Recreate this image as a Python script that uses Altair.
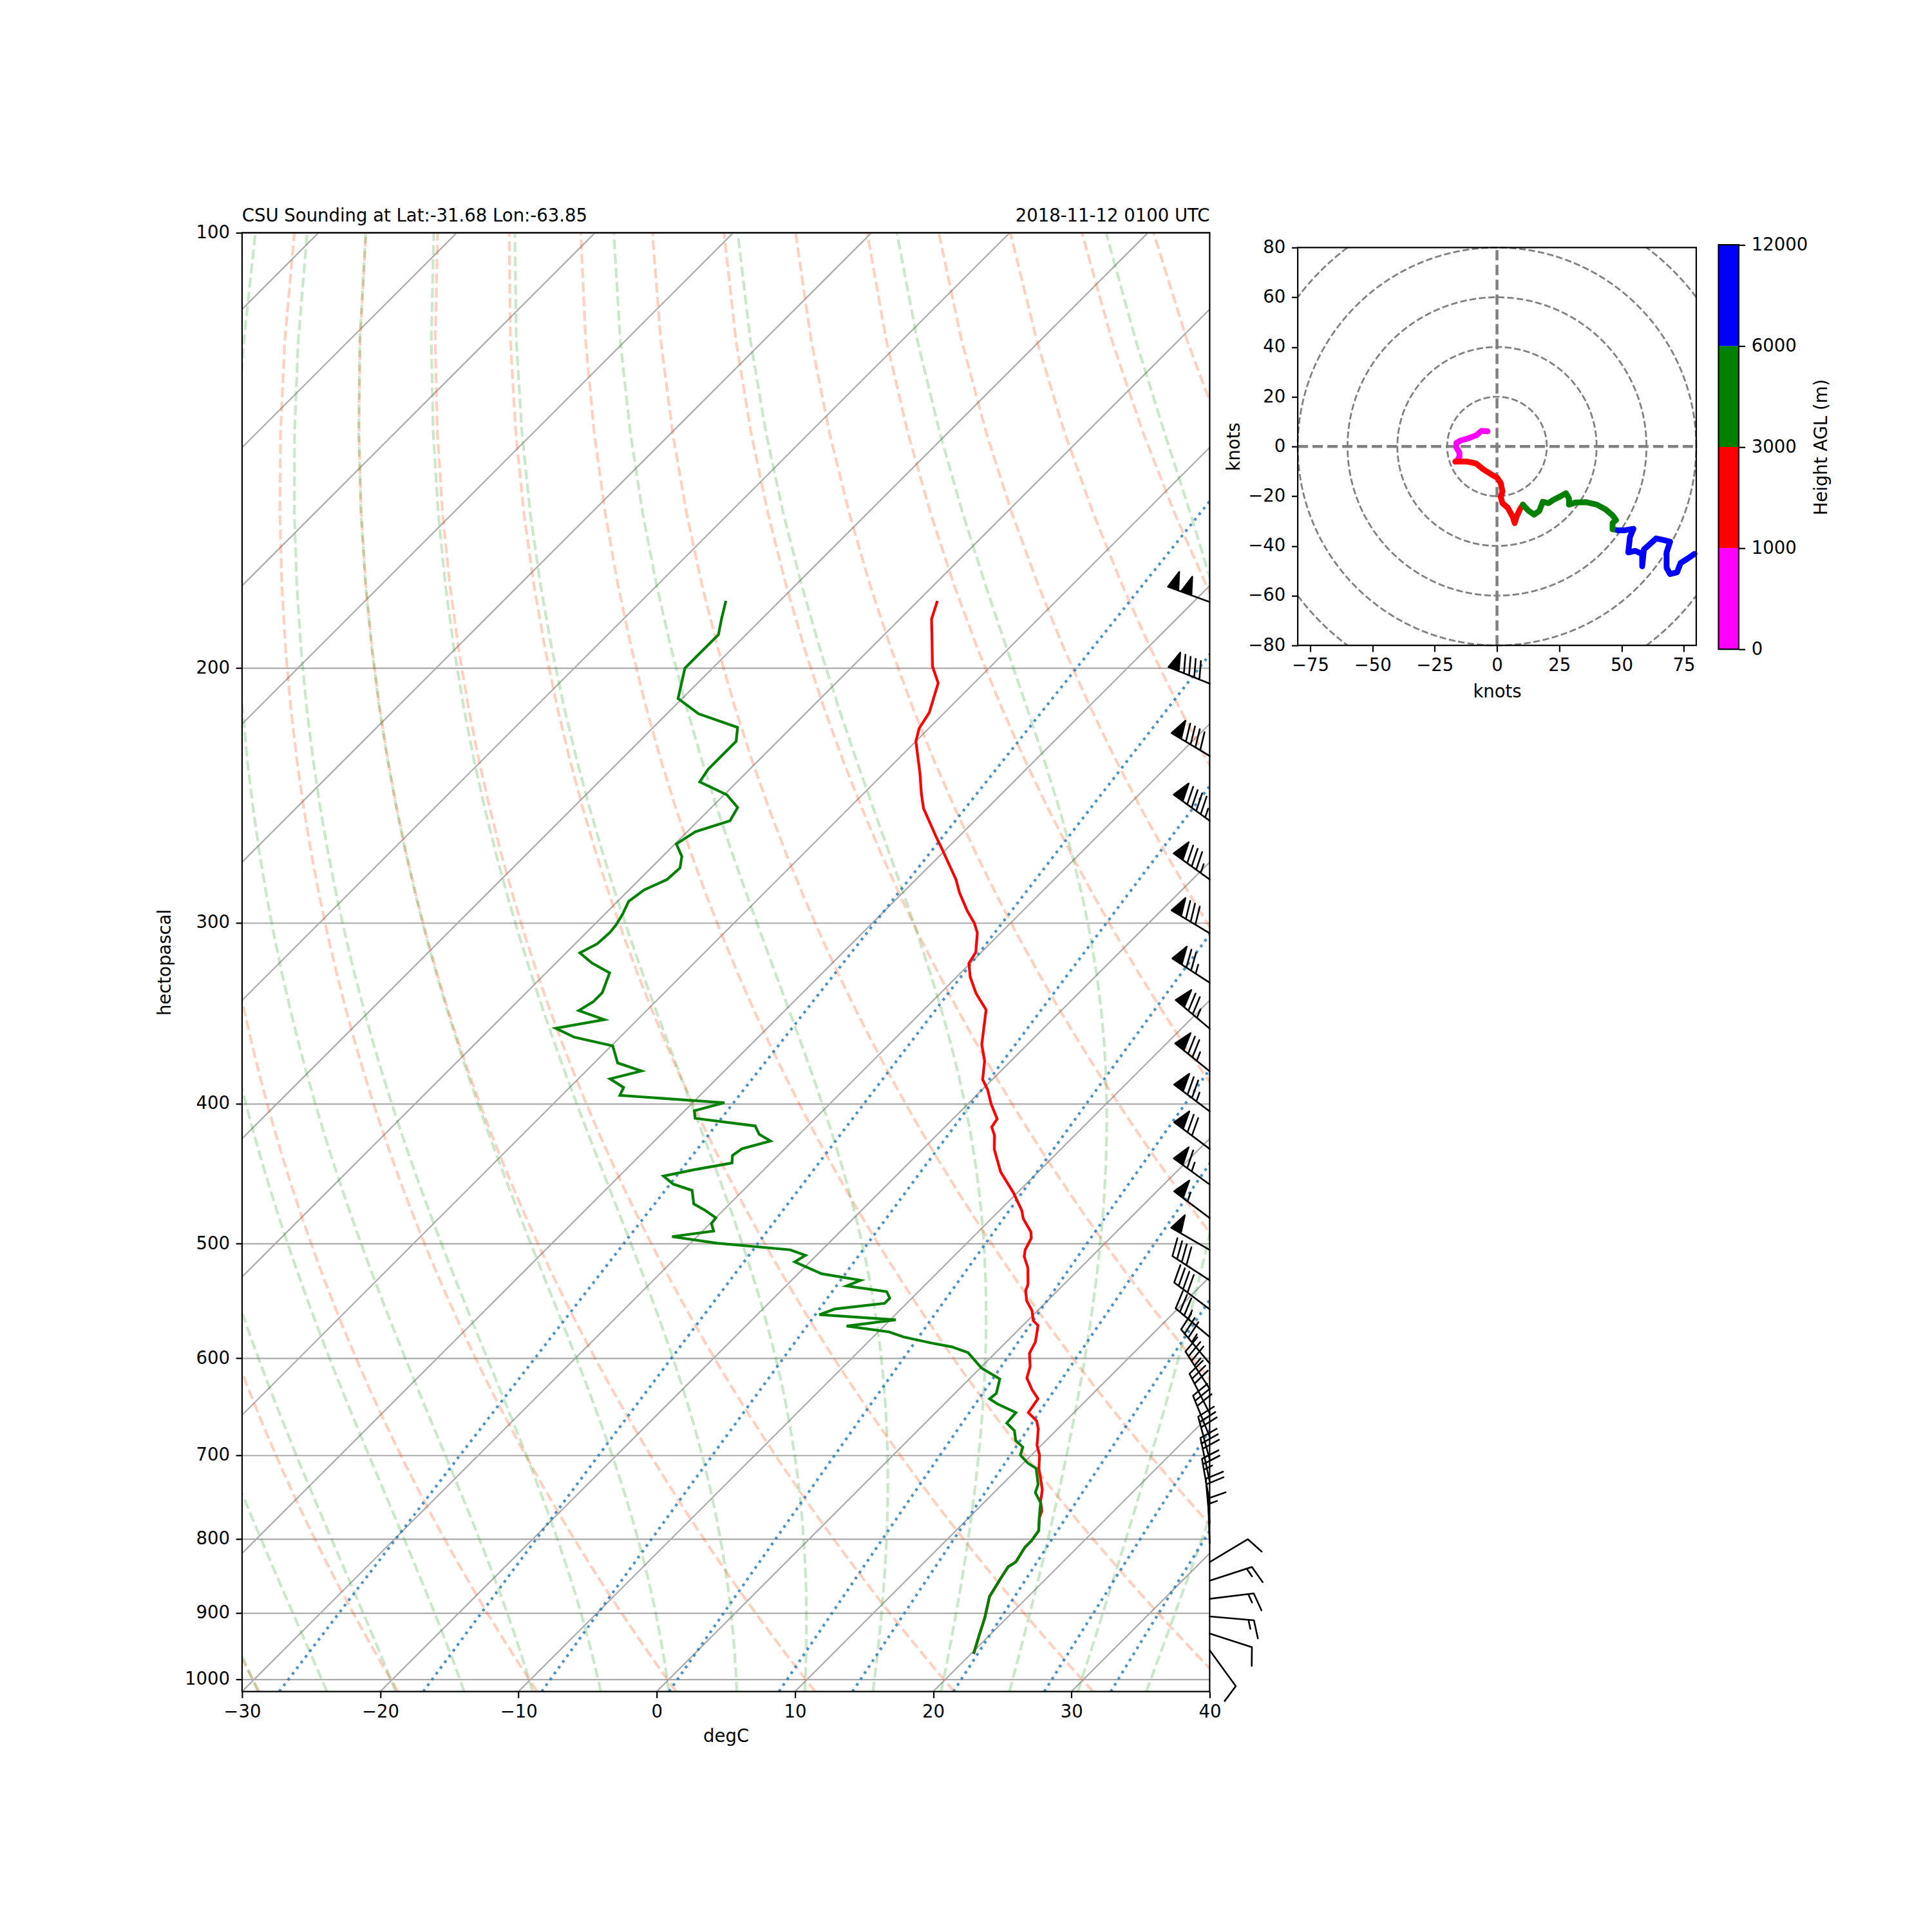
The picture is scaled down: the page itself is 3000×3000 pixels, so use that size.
import numpy as np
import pandas as pd
import altair as alt

# ------------------------------------------------------------------ texts
TITLE_LEFT = "CSU Sounding at Lat:-31.68 Lon:-63.85"
TITLE_RIGHT = "2018-11-12 0100 UTC"
X_TITLE = "degC"
Y_TITLE = "hectopascal"
HODO_TITLE = "knots"
CBAR_TITLE = "Height AGL (m)"

# ------------------------------------------------------------------ sounding
temp_p = [179.7, 185.0, 199.5, 204.8, 214.7, 220.1, 224.7, 236.4, 244.3, 250.0,
          261.7, 266.0, 280.0, 285.9, 294.4, 300.2, 304.8, 314.4, 320.0, 327.1,
          335.7, 344.5, 364.1, 373.8, 385.0, 391.3, 400.4, 409.9, 415.3, 420.8,
          430.3, 446.1, 460.9, 474.2, 480.4, 490.6, 495.7, 504.9, 510.2, 519.6,
          533.4, 539.0, 547.6, 556.3, 565.1, 569.5, 584.6, 595.4, 608.0, 619.3,
          630.7, 640.0, 654.2, 662.9, 671.4, 689.3, 700.2, 715.0, 739.8, 753.4,
          765.3, 773.4, 789.7, 802.3, 810.7, 829.9, 836.4, 851.9, 876.8, 907.1,
          931.0, 960.7]
temp_c = [-58.6, -57.7, -54.2, -52.6, -51.1, -50.7, -50.0, -47.4, -45.8, -44.6,
          -41.6, -40.5, -37.1, -35.9, -34.0, -32.6, -31.7, -30.4, -30.1, -29.0,
          -27.4, -25.5, -23.3, -21.9, -20.7, -19.6, -18.3, -16.8, -16.6, -15.8,
          -14.8, -12.7, -10.3, -8.4, -7.7, -6.2, -5.7, -5.3, -4.9, -3.8,
          -2.6, -2.3, -1.5, -0.4, 0.4, 1.1, 2.1, 2.5, 3.5, 4.1,
          5.3, 6.4, 6.7, 7.9, 8.6, 9.7, 10.6, 11.5, 13.3, 14.0,
          14.8, 15.1, 16.0, 16.2, 16.2, 16.6, 16.4, 16.7, 17.2, 18.4,
          19.2, 20.2]

dewp_p = [179.7, 185.0, 189.6, 200.0, 209.9, 215.1, 219.8, 224.7, 229.6, 235.0,
          239.7, 244.7, 249.7, 255.0, 259.5, 264.6, 269.9, 274.9, 280.0, 284.7,
          289.9, 296.0, 301.1, 304.7, 310.2, 314.7, 319.8, 324.9, 335.3, 340.2,
          345.0, 350.0, 354.8, 359.9, 364.9, 369.9, 375.0, 379.8, 384.6, 389.9,
          394.8, 399.5, 404.6, 409.5, 414.5, 420.1, 424.6, 429.8, 434.5, 439.7,
          444.6, 449.0, 454.8, 459.3, 469.3, 474.2, 479.8, 484.2, 490.0, 494.4,
          499.6, 502.2, 504.9, 509.3, 514.7, 524.5, 530.0, 534.8, 539.6, 545.3,
          549.8, 554.8, 559.8, 564.4, 570.1, 575.4, 580.0, 585.5, 589.2, 594.7,
          609.5, 620.1, 634.6, 640.0, 645.6, 654.2, 665.3, 673.3, 683.9, 691.2,
          700.0, 708.9, 715.0, 733.4, 743.2, 755.1, 773.4, 789.7, 802.3, 810.7,
          829.9, 836.4, 851.9, 876.8, 907.1, 931.0, 960.7]
dewp_c = [-73.9, -72.9, -72.0, -72.0, -70.3, -67.7, -63.9, -63.0, -63.0, -63.0,
          -62.7, -59.8, -58.1, -57.7, -59.4, -59.9, -58.6, -57.9, -58.0, -58.9,
          -59.2, -58.7, -58.4, -58.3, -58.4, -59.0, -57.4, -55.4, -54.5, -54.5,
          -54.9, -52.4, -55.3, -53.3, -49.9, -49.1, -48.3, -46.0, -47.7, -46.1,
          -45.8, -37.7, -39.3, -38.7, -33.8, -32.9, -31.6, -33.1, -33.3, -32.8,
          -35.1, -36.8, -35.5, -33.7, -32.6, -31.3, -30.0, -29.9, -29.2, -31.8,
          -28.1, -25.2, -22.3, -20.8, -21.1, -18.3, -15.0, -15.6, -12.3, -11.6,
          -11.6, -14.8, -15.5, -9.6, -12.7, -9.2, -7.8, -5.4, -3.6, -2.0,
          0.1, 2.2, 3.0, 2.9, 3.9, 5.8, 5.9, 7.0, 7.8, 8.8,
          9.2, 10.3, 11.3, 12.6, 13.0, 14.1, 15.1, 16.0, 16.2, 16.2,
          16.6, 16.4, 16.7, 17.2, 18.4, 19.2, 20.2]

# wind barbs (hPa, knots, direction wind comes from in degrees)
barb_p = [180, 205, 230, 255, 280, 305, 330, 355, 380, 405, 430, 455, 480, 505, 530, 555,
          580, 605, 630, 655, 680, 705, 730, 755, 780, 805, 830, 855, 880, 905, 930, 955]
barb_spd = [100, 90, 90, 95, 85, 80, 75, 75, 75, 75, 70, 65, 55, 50, 40, 40,
            35, 35, 35, 30, 30, 30, 30, 25, 20, 15, 10, 15, 15, 15, 10, 10]
barb_dir = [290, 292, 301, 306, 306, 301, 303, 310, 309, 307, 307, 306, 307, 300, 303, 307,
            310, 320, 327, 333, 338, 345, 348, 350, 355, 358, 59, 72, 83, 95, 108, 144]

# hodograph (knots) and height AGL (m)
hodo_u = [-3.8, -6.2, -8.3, -11.8, -14.6, -16.3, -16.3, -15.1, -15.1, -16.0,
          -16.7, -11.8, -8.3, -5.5, -2.0, 0.1, 1.5, 2.2, 1.5, 2.2, 4.3, 6.4, 7.1, 7.8, 9.2,
          10.4, 12.7, 14.9, 17.0, 18.4, 20.7, 22.6, 25.4, 27.7, 28.9, 28.9, 31.7, 35.9, 40.1,
          43.6, 46.4, 47.8, 46.4, 46.4,
          48.5, 51.3, 54.8, 53.4, 52.7, 55.5, 58.3, 58.3, 59.0, 61.1, 63.9, 66.7, 69.5, 68.1,
          68.1, 69.5, 72.3, 73.7, 76.5, 79.3]
hodo_v = [6.1, 6.3, 4.5, 3.2, 2.4, 1.4, -0.5, -2.4, -4.2, -5.7,
          -6.1, -6.1, -6.9, -9.2, -11.4, -12.6, -14.7, -18.1, -20.3, -22.8, -24.6, -28.4, -30.8,
          -28.4, -25.3,
          -23.4, -25.9, -27.4, -25.9, -22.2, -22.8, -21.5, -20.1, -18.8, -20.9, -23.4, -22.5,
          -22.4, -23.4, -25.3, -27.7, -29.6, -30.8, -33.3,
          -33.7, -33.7, -33.1, -36.4, -42.6, -42.0, -43.2, -48.2, -41.4, -39.5, -37.0, -37.6,
          -38.3, -42.6, -48.8, -51.3, -50.6, -46.9, -45.1, -43.2]
hodo_h = [0, 110, 220, 330, 440, 550, 660, 770, 880, 990,
          1000, 1140, 1280, 1420, 1560, 1700, 1840, 1980, 2120, 2260, 2400, 2540, 2680, 2820, 2960,
          3000, 3165, 3330, 3495, 3660, 3825, 3990, 4155, 4320, 4485, 4650, 4815, 4980, 5145,
          5310, 5475, 5640, 5805, 5970,
          6000, 6300, 6600, 6900, 7200, 7500, 7800, 8100, 8400, 8700, 9000, 9300, 9600, 9900,
          10200, 10500, 10800, 11100, 11400, 11700]

# ------------------------------------------------------------------ ticks and reference-line parameters
skew_xticks = [-30, -20, -10, 0, 10, 20, 30, 40]
skew_pticks = [100, 200, 300, 400, 500, 600, 700, 800, 900, 1000]
isotherm_t = [-130, -120, -110, -100, -90, -80, -70, -60, -50, -40, -30, -20, -10, 0, 10, 20, 30, 40]
dry_theta_k = list(range(233, 533, 10))
moist_t0_k = list(range(233, 400, 5))
mixing_ratios = [0.0004, 0.001, 0.002, 0.004, 0.007, 0.01, 0.016, 0.024, 0.032]
hodo_xticks = [-75, -50, -25, 0, 25, 50, 75]
hodo_yticks = [-80, -60, -40, -20, 0, 20, 40, 60, 80]
hodo_rings = [20, 40, 60, 80, 100, 120]
cbar_bounds = [0, 1000, 3000, 6000, 12000]
cbar_labels = ["0", "1000", "3000", "6000", "12000"]
cbar_colors = ["#ff00ff", "#ff0000", "#008000", "#0000ff"]
band_names = ["0-1000", "1000-3000", "3000-6000", "6000-12000"]

# ------------------------------------------------------------------ layout / style
FONT = "DejaVu Sans"
FS = 27.5
SK_W, SK_H = 1503, 2266
ORIGIN_X, ORIGIN_Y = 375.5, 360.5
GAP = 34.2
HB_W, HB_H = 619, 618
H_EXTRA_X, H_EXTRA_Y = 102.6, 23.0
CB_W, CB_BAR_H, CB_EXTRA_Y = 31.4, 628.1, 18.8
TICK = 9.7
AXW = 2.2
BARB_LEN = 69.0

# ------------------------------------------------------------------ skew-T geometry
P_BOT, P_TOP = 1020.0, 100.0
T_MIN, T_MAX = -30.0, 40.0
SKEW = (T_MAX - T_MIN) * SK_H / SK_W          # 45 degree skew
LOG_SPAN = np.log10(P_BOT / P_TOP)


def skew_x(t, p):
    return np.asarray(t, float) + SKEW * np.log10(P_BOT / np.asarray(p, float)) / LOG_SPAN


RD = 287.04749097718457
CPD = 1004.6662184201462
LV = 2.50084e6
EPS = 0.6219569100577033


def sat_vp(tk):
    return 6.112 * np.exp(17.67 * (tk - 273.15) / (tk - 29.65))


def moist_dtdp(p, t):
    es = sat_vp(t)
    rs = EPS * es / (p - es)
    return (RD * t + LV * rs) / (CPD + LV * LV * rs * EPS / (RD * t * t)) / p


def rk4(t, p0, p1, n):
    h = (p1 - p0) / n
    p = p0
    for _ in range(n):
        k1 = moist_dtdp(p, t)
        k2 = moist_dtdp(p + h / 2, t + h / 2 * k1)
        k3 = moist_dtdp(p + h / 2, t + h / 2 * k2)
        k4 = moist_dtdp(p + h, t + h * k3)
        t = t + h / 6 * (k1 + 2 * k2 + 2 * k3 + k4)
        p += h
    return t


p_lines = np.linspace(P_BOT, P_TOP, 50)


def lines_frame(curves):
    rows = []
    for k, (pp, tt) in enumerate(curves):
        xs = skew_x(tt, pp)
        for i, (a, b) in enumerate(zip(pp, xs)):
            if np.isfinite(b):
                rows.append({"line": k, "i": i, "p": float(a), "xs": float(b)})
    return pd.DataFrame(rows)


iso_df = lines_frame([(np.array([P_BOT, P_TOP]), np.array([t, t], float)) for t in isotherm_t])
dry_df = lines_frame([(p_lines, th * (p_lines / 1000.0) ** (RD / CPD) - 273.15) for th in dry_theta_k])

t0 = np.array([t for t in moist_t0_k if sat_vp(t) < 500.0], float)
moist_T = np.zeros((len(p_lines), len(t0)))
moist_T[0] = rk4(t0.copy(), 1000.0, P_BOT, 10)
tcur, pcur = t0.copy(), 1000.0
for j in range(1, len(p_lines)):
    tcur = rk4(tcur, pcur, p_lines[j], 20)
    pcur = p_lines[j]
    moist_T[j] = tcur
moist_df = lines_frame([(p_lines, moist_T[:, k] - 273.15) for k in range(len(t0))])


def mix_td(w, p):
    e = p * w / (EPS + w)
    val = np.log(e / 6.112)
    return 243.5 * val / (17.67 - val)


mix_df = lines_frame([(p_lines, mix_td(w, p_lines)) for w in mixing_ratios])
temp_df = lines_frame([(np.array(temp_p), np.array(temp_c))])
dewp_df = lines_frame([(np.array(dewp_p), np.array(dewp_c))])


def barb_path(spd, wdir, L=BARB_LEN):
    rad = np.deg2rad(wdir)
    u, v = -spd * np.sin(rad), -spd * np.cos(rad)
    mag = np.hypot(u, v)
    dmx, dmy = -u / mag, -v / mag
    shaft = (dmx, -dmy)          # screen coordinates (y down)
    side = (dmy, dmx)
    r = 5 * np.around(spd / 5.0)
    nflag = int(r // 50); r -= 50 * nflag
    nbarb = int(r // 10); r -= 10 * nbarb
    half = r >= 5
    sp, fh, fw = 0.125 * L, 0.4 * L, 0.25 * L
    verts = [(0.0, 0.0)]
    off = L
    for _ in range(nflag):
        if off != L:
            off += sp / 2
        verts += [(0, off), (fh, off - fw / 2), (0, off - fw)]
        off -= fw + sp
    for _ in range(nbarb):
        verts += [(0, off), (fh, off + fw / 2), (0, off)]
        off -= sp
    if half:
        if off == L:
            verts.append((0, off))
            off -= 1.5 * sp
        verts += [(0, off), (fh / 2, off + fw / 4), (0, off)]
    pts = [(a * side[0] + b * shaft[0], a * side[1] + b * shaft[1]) for a, b in verts]
    return "M" + "L".join(f"{x:.2f},{y:.2f}" for x, y in pts) + "Z"


barb_df = pd.DataFrame({
    "p": barb_p,
    "xs": [T_MAX] * len(barb_p),
    "path": [barb_path(s, d) for s, d in zip(barb_spd, barb_dir)],
})

# ------------------------------------------------------------------ skew-T chart
xsc = alt.Scale(domain=[T_MIN, T_MAX], nice=False, zero=False)
ysc = alt.Scale(type="log", domain=[P_TOP, P_BOT], reverse=True, nice=False)
x_axis = alt.Axis(values=skew_xticks, format="d", title=X_TITLE, grid=False, domain=False,
                  tickSize=TICK, labelPadding=8, labelFlush=False, labelOverlap=False,
                  titleY=77.5, titleBaseline="alphabetic")
y_axis = alt.Axis(values=skew_pticks, format="d", title=Y_TITLE, grid=True, gridColor="#aaaaaa",
                  gridWidth=AXW, domain=False, tickSize=TICK, labelPadding=TICK,
                  labelOverlap=False, titleX=-111.8, titleAngle=270,
                  titleBaseline="alphabetic")


def ex(field="xs"):
    return alt.X(f"{field}:Q", scale=xsc, axis=x_axis)


def ey(field="p"):
    return alt.Y(f"{field}:Q", scale=ysc, axis=y_axis)


def line_layer(df, color, width, dash=None, opacity=1.0):
    kw = dict(color=color, strokeWidth=width, opacity=opacity, clip=True, strokeCap="butt")
    if dash:
        kw["strokeDash"] = dash
    return alt.Chart(df).mark_line(**kw).encode(x=ex(), y=ey(), detail="line:N", order="i:Q")


one = pd.DataFrame({"k": [0]})
anchor_a = alt.Chart(one).mark_point(opacity=0, size=1, clip=False).encode(
    x=alt.value(-ORIGIN_X), y=alt.value(-ORIGIN_Y))
anchor_b = alt.Chart(one).mark_point(opacity=0, size=1, clip=False).encode(
    x=alt.value(3000 - ORIGIN_X), y=alt.value(3000 - ORIGIN_Y))

iso_layer = line_layer(iso_df, "#aaaaaa", AXW)
dry_layer = line_layer(dry_df, "orangered", 4.2, [15.4, 6.7], 0.25)
moist_layer = line_layer(moist_df, "#2ca02c", 4.2, [15.4, 6.7], 0.25)
mix_layer = line_layer(mix_df, "#1f77b4", 4.2, [4.2, 6.9], 0.8)
temp_layer = line_layer(temp_df, "#ff0000", 4.2)
dewp_layer = line_layer(dewp_df, "#008000", 4.2)

barb_layer = alt.Chart(barb_df).mark_point(
    filled=True, fill="black", stroke="black", strokeWidth=2.6, strokeJoin="round",
    opacity=1, size=4, clip=False).encode(
    x=ex(), y=ey(), shape=alt.Shape("path:N", scale=None))

frame_df = pd.DataFrame({"x1": [T_MIN], "x2": [T_MAX], "p1": [P_TOP], "p2": [P_BOT]})
frame_layer = alt.Chart(frame_df).mark_rect(fillOpacity=0, stroke="black", strokeWidth=AXW).encode(
    x=ex("x1"), x2="x2:Q", y=ey("p1"), y2="p2:Q")

tl_layer = alt.Chart(pd.DataFrame({"text": [TITLE_LEFT]})).mark_text(
    align="left", baseline="alphabetic", fontSize=FS, font=FONT, color="black", clip=False).encode(
    text="text:N", x=alt.value(0), y=alt.value(-17.8))
tr_layer = alt.Chart(pd.DataFrame({"text": [TITLE_RIGHT]})).mark_text(
    align="right", baseline="alphabetic", fontSize=FS, font=FONT, color="black", clip=False).encode(
    text="text:N", x=alt.value(SK_W), y=alt.value(-17.8))

skew = alt.layer(anchor_a, anchor_b, iso_layer, dry_layer, moist_layer, mix_layer,
                 temp_layer, dewp_layer, barb_layer, frame_layer, tl_layer, tr_layer
                 ).properties(width=SK_W, height=SK_H)

# ------------------------------------------------------------------ hodograph
hxsc = alt.Scale(domain=[-80 - H_EXTRA_X * 160.0 / HB_W, 80], nice=False, zero=False)
hysc = alt.Scale(domain=[-80, 80 + H_EXTRA_Y * 160.0 / HB_H], nice=False, zero=False)
hx_axis = alt.Axis(values=hodo_xticks, format="d", title=HODO_TITLE, grid=False, domain=False,
                   tickSize=TICK, labelPadding=8, labelFlush=False, labelOverlap=False,
                   titleX=H_EXTRA_X + HB_W / 2, titleY=80, titleBaseline="alphabetic")
hy_axis = alt.Axis(values=hodo_yticks, format="d", title=HODO_TITLE, grid=False, domain=False,
                   tickSize=TICK, labelPadding=TICK, labelFlush=False, labelOverlap=False,
                   offset=-H_EXTRA_X, titleX=-91, titleY=H_EXTRA_Y + HB_H / 2,
                   titleAngle=270, titleBaseline="alphabetic")


def hx(field="u"):
    return alt.X(f"{field}:Q", scale=hxsc, axis=hx_axis)


def hy(field="v"):
    return alt.Y(f"{field}:Q", scale=hysc, axis=hy_axis)


ring_rows = []
seg = 0
th = np.linspace(0, 2 * np.pi, 2881)
for r in hodo_rings:
    cx, cy = r * np.cos(th), r * np.sin(th)
    inside = (np.abs(cx) <= 80 + 1e-9) & (np.abs(cy) <= 80 + 1e-9)
    prev = False
    i = 0
    for a, b, ins in zip(cx, cy, inside):
        if ins:
            if not prev:
                seg += 1
                i = 0
            ring_rows.append({"seg": seg, "i": i, "u": float(a), "v": float(b)})
            i += 1
        prev = ins
ring_df = pd.DataFrame(ring_rows)
ring_layer = alt.Chart(ring_df).mark_line(color="#808080", strokeWidth=2.8, strokeDash=[10.3, 4.4]).encode(
    x=hx(), y=hy(), detail="seg:N", order="i:Q")

axes_df = pd.DataFrame({"u": [0, -80], "v": [-80, 0], "u2": [0, 80], "v2": [80, 0]})
axes_layer = alt.Chart(axes_df).mark_rule(color="#808080", strokeWidth=4.5, strokeDash=[16, 7]).encode(
    x=hx(), y=hy(), x2="u2:Q", y2="v2:Q")

bands = np.digitize(hodo_h, cbar_bounds[1:-1])
trace_rows = []
n = len(hodo_u)
for b in range(4):
    idx = [i for i in range(n) if bands[i] == b]
    if not idx:
        continue
    if idx[-1] + 1 < n:
        idx = idx + [idx[-1] + 1]
    for k, i in enumerate(idx):
        trace_rows.append({"band": band_names[b], "i": k, "u": hodo_u[i], "v": hodo_v[i]})
trace_df = pd.DataFrame(trace_rows)
band_scale = alt.Scale(domain=band_names, range=cbar_colors)
trace_layer = alt.Chart(trace_df).mark_line(strokeWidth=9, strokeJoin="round", strokeCap="round").encode(
    x=hx(), y=hy(), color=alt.Color("band:N", scale=band_scale, legend=None),
    detail="band:N", order="i:Q")

hframe_df = pd.DataFrame({"u": [-80], "u2": [80], "v": [-80], "v2": [80]})
hframe_layer = alt.Chart(hframe_df).mark_rect(fillOpacity=0, stroke="black", strokeWidth=AXW).encode(
    x=hx(), x2="u2:Q", y=hy(), y2="v2:Q")

hodo = alt.layer(ring_layer, axes_layer, trace_layer, hframe_layer).properties(
    width=HB_W + H_EXTRA_X, height=HB_H + H_EXTRA_Y)

# ------------------------------------------------------------------ colour bar
cb_df = pd.DataFrame({"band": band_names, "lo": [0, 1, 2, 3], "hi": [1, 2, 3, 4],
                      "x0": [0] * 4, "x1": [1] * 4})
label_expr = "[" + ",".join(f"'{s}'" for s in cbar_labels) + "][datum.value]"
cysc = alt.Scale(domain=[0, 4 + 4 * CB_EXTRA_Y / CB_BAR_H], nice=False, zero=False)
cb_axis = alt.Axis(orient="right", values=[0, 1, 2, 3, 4], labelExpr=label_expr, title=CBAR_TITLE,
                   domain=False, grid=False, tickSize=TICK, labelPadding=TICK, labelFlush=False,
                   labelOverlap=False, titleAngle=270, titleX=137, titleY=CB_EXTRA_Y + CB_BAR_H / 2,
                   titleBaseline="alphabetic")
cxsc = alt.Scale(domain=[0, 1], nice=False, zero=False)
cb_bars = alt.Chart(cb_df).mark_rect().encode(
    x=alt.X("x0:Q", scale=cxsc, axis=None), x2="x1:Q",
    y=alt.Y("lo:Q", scale=cysc, axis=cb_axis), y2="hi:Q",
    color=alt.Color("band:N", scale=band_scale, legend=None))
cb_frame_df = pd.DataFrame({"x0": [0], "x1": [1], "lo": [0], "hi": [4]})
cb_frame = alt.Chart(cb_frame_df).mark_rect(fillOpacity=0, stroke="black", strokeWidth=AXW).encode(
    x=alt.X("x0:Q", scale=cxsc, axis=None), x2="x1:Q",
    y=alt.Y("lo:Q", scale=cysc, axis=cb_axis), y2="hi:Q")
cbar = alt.layer(cb_bars, cb_frame).properties(width=CB_W, height=CB_BAR_H + CB_EXTRA_Y)

# ------------------------------------------------------------------ assemble
chart = alt.hconcat(skew, hodo, cbar, spacing=GAP, bounds="flush").properties(
    padding=0
).configure(font=FONT).configure_view(strokeWidth=0).configure_axis(
    labelFont=FONT, titleFont=FONT, labelFontSize=FS, titleFontSize=FS,
    labelColor="black", titleColor="black", titleFontWeight="normal",
    tickColor="black", tickWidth=AXW)

chart.save("out.html", embed_options={"renderer": "svg", "actions": False})
